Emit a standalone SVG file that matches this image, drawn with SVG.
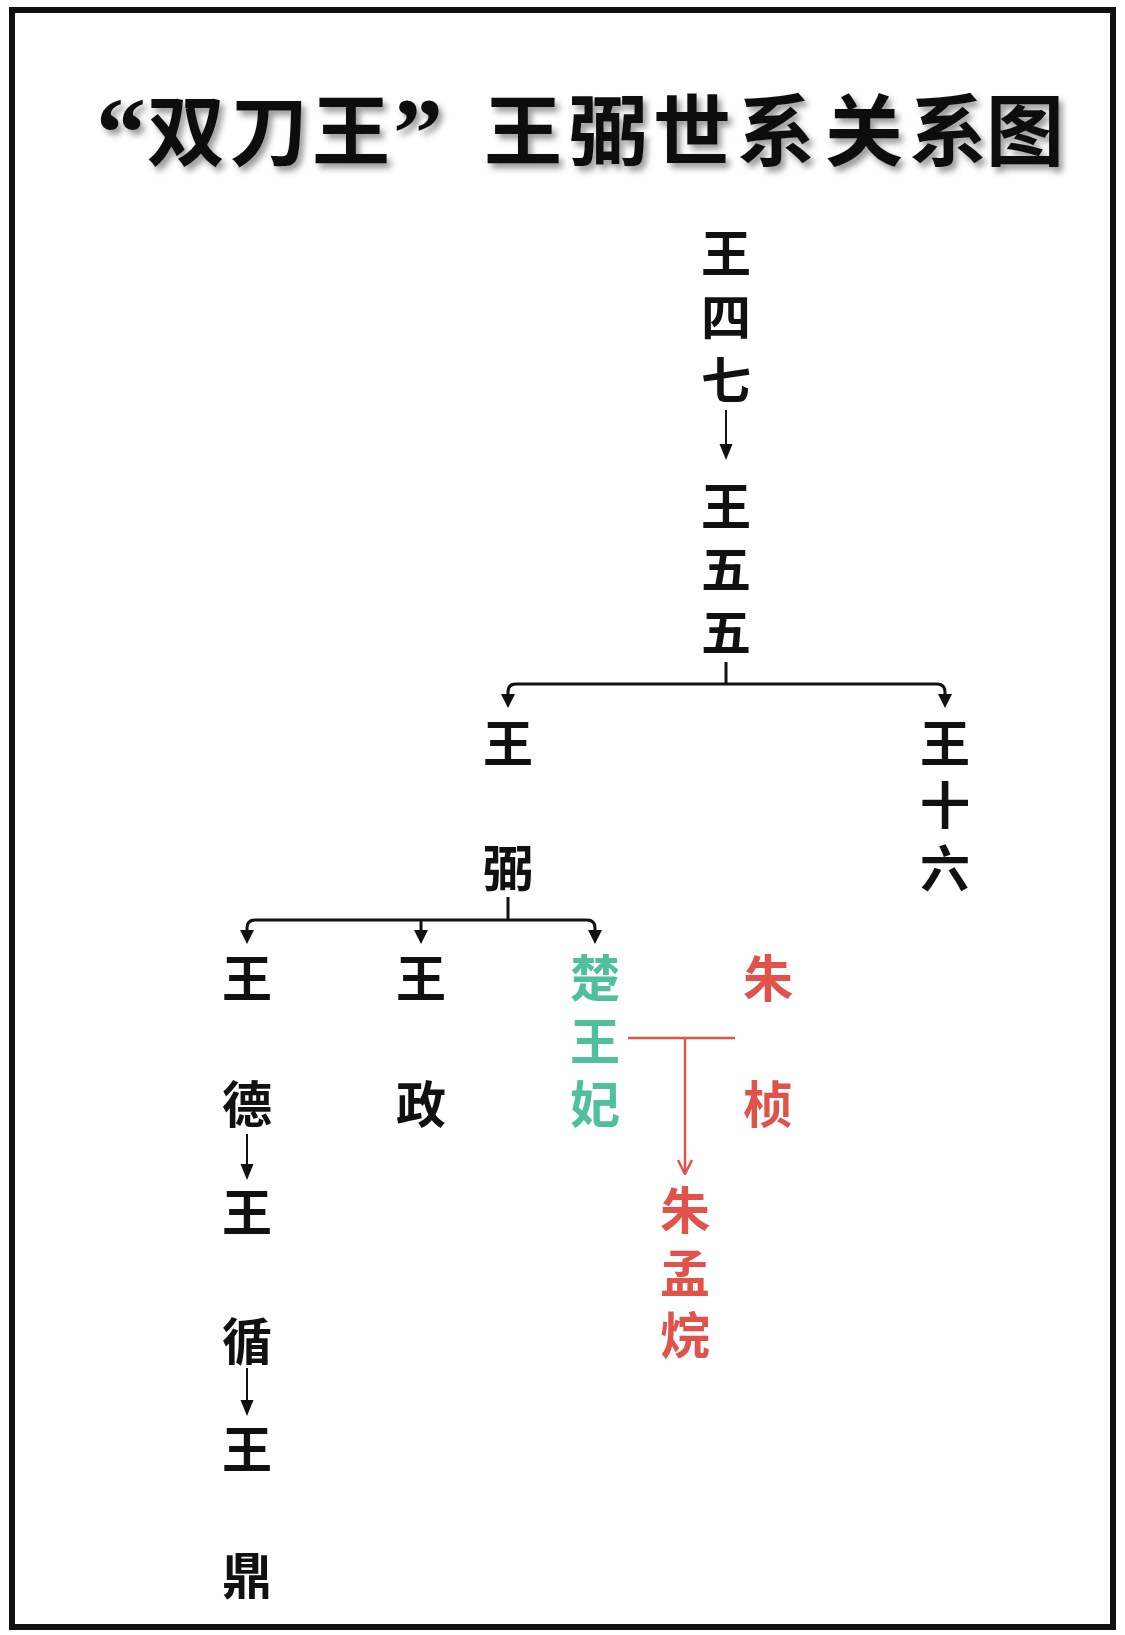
<svg xmlns="http://www.w3.org/2000/svg" width="1125" height="1635" viewBox="0 0 1125 1635">
<defs>
<style>
.t{font-family:"Noto Sans CJK SC","Noto Sans",sans-serif;font-weight:700;font-size:50px;text-anchor:middle;dominant-baseline:central}
.k{fill:#111}
.g{fill:#4fbf9c}
.r{fill:#e0524a}
.ln{fill:none;stroke:#111;stroke-width:3}
.thin{fill:none;stroke:#111;stroke-width:2}
.rl{fill:none;stroke:#e0524a;stroke-width:2.5}
.title{font-family:"Noto Sans CJK SC",sans-serif;font-weight:700;font-size:78px;fill:#111;text-anchor:middle}
.q{font-family:"Liberation Serif","Noto Sans CJK SC",serif;font-weight:700;font-size:100px}
</style>
<marker id="ahd" markerUnits="userSpaceOnUse" markerWidth="16" markerHeight="16" refX="8" refY="8" orient="auto" viewBox="0 0 16 16">
<path d="M0,1.5 L16,8 L0,14.5 Z" fill="#111"/>
</marker>
<marker id="ahr" markerUnits="userSpaceOnUse" markerWidth="16" markerHeight="20" refX="15" refY="8" orient="auto" viewBox="0 0 16 16">
<path d="M1,1 L15,8 L1,15" fill="none" stroke="#e0524a" stroke-width="2.5"/>
</marker>
<filter id="sh" x="-5%" y="-20%" width="110%" height="150%">
<feDropShadow dx="4" dy="5" stdDeviation="3" flood-color="#000" flood-opacity="0.4"/>
</filter>
</defs>
<rect x="0" y="0" width="1125" height="1635" fill="#fff"/>
<rect x="12" y="10" width="1101" height="1617" fill="none" stroke="#111" stroke-width="6"/>
<text class="title" y="160" filter="url(#sh)"><tspan class="q" x="121" y="166">“</tspan><tspan x="186 269 351" y="160">双刀王</tspan><tspan class="q" x="418" y="166">”</tspan><tspan x="523 608 692 776 864 948 1025" y="160">王弼世系关系图</tspan></text>

<g id="connectors">
<path class="thin" d="M726,410 L726,452" marker-end="url(#ahd)"/>
<path class="ln" d="M726,662 L726,684"/>
<path class="ln" d="M508,697 L508,692 Q508,684 516,684 L937,684 Q945,684 945,692 L945,697"/>
<path d="M501,694 L515,694 L508,708 Z" fill="#111"/>
<path d="M938,694 L952,694 L945,708 Z" fill="#111"/>
<path class="ln" d="M508,897 L508,920"/>
<path class="ln" d="M247,933 L247,928 Q247,920 255,920 L587,920 Q595,920 595,928 L595,933"/>
<path class="ln" d="M421,920 L421,933"/>
<path d="M240,930 L254,930 L247,944 Z" fill="#111"/>
<path d="M414,930 L428,930 L421,944 Z" fill="#111"/>
<path d="M588,930 L602,930 L595,944 Z" fill="#111"/>
<path class="thin" d="M247,1134 L247,1172" marker-end="url(#ahd)"/>
<path class="thin" d="M247,1368 L247,1408" marker-end="url(#ahd)"/>
<path class="rl" d="M628,1038 L735,1038"/>
<path class="rl" d="M685,1038 L685,1174" marker-end="url(#ahr)"/>
</g>

<g id="n-wang47"><text class="t k" x="726" y="250">王</text><text class="t k" x="726" y="314">四</text><text class="t k" x="726" y="377">七</text></g>
<g id="n-wang55"><text class="t k" x="726" y="503">王</text><text class="t k" x="726" y="566">五</text><text class="t k" x="726" y="629">五</text></g>
<g id="n-wangbi"><text class="t k" x="508" y="740">王</text><text class="t k" x="508" y="865">弼</text></g>
<g id="n-wang16"><text class="t k" x="945" y="740">王</text><text class="t k" x="945" y="802">十</text><text class="t k" x="945" y="865">六</text></g>
<g id="n-wangde"><text class="t k" x="247" y="975">王</text><text class="t k" x="247" y="1101">德</text></g>
<g id="n-wangzheng"><text class="t k" x="421" y="975">王</text><text class="t k" x="421" y="1101">政</text></g>
<g id="n-chuwangfei"><text class="t g" x="595" y="975">楚</text><text class="t g" x="595" y="1038">王</text><text class="t g" x="595" y="1101">妃</text></g>
<g id="n-zhuzhen"><text class="t r" x="768" y="975">朱</text><text class="t r" x="768" y="1101">桢</text></g>
<g id="n-zhumenghuan"><text class="t r" x="685" y="1207">朱</text><text class="t r" x="685" y="1270">孟</text><text class="t r" x="685" y="1332">烷</text></g>
<g id="n-wangxun"><text class="t k" x="247" y="1209">王</text><text class="t k" x="247" y="1338">循</text></g>
<g id="n-wangding"><text class="t k" x="247" y="1446">王</text><text class="t k" x="247" y="1572">鼎</text></g>
</svg>
